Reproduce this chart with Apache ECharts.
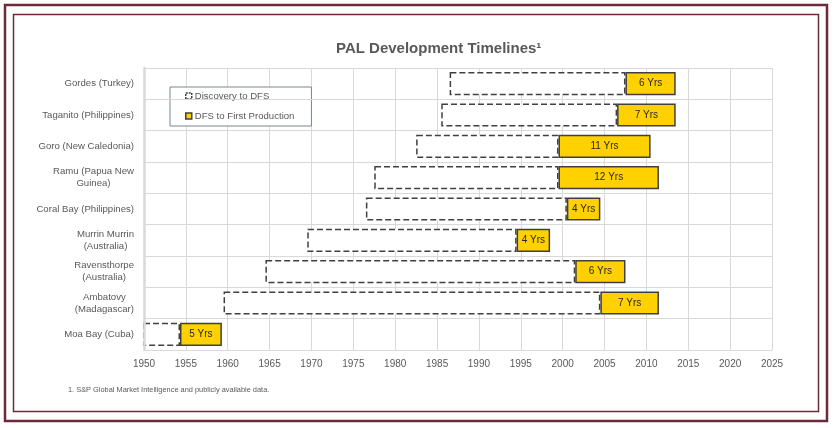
<!DOCTYPE html>
<html>
<head>
<meta charset="utf-8">
<script src="https://cdn.jsdelivr.net/npm/echarts@6/dist/echarts.min.js"></script>
<style>
html,body{margin:0;padding:0;background:#fff;}
#chart{width:835px;height:428px;}
</style>
</head>
<body>
<div id="chart"></div>
<script>
// Data (top to bottom)
var projects = ['Gordes (Turkey)', 'Taganito (Philippines)', 'Goro (New Caledonia)', 'Ramu (Papua New\nGuinea)', 'Coral Bay (Philippines)', 'Murrin Murrin\n(Australia)', 'Ravensthorpe\n(Australia)', 'Ambatovy\n(Madagascar)', 'Moa Bay (Cuba)'];
var discoveryYear = [1986.5, 1985.5, 1982.5, 1977.5, 1976.5, 1969.5, 1964.5, 1959.5, 1949];
var dfsYear = [2007.5, 2006.5, 1999.5, 1999.5, 2000.5, 1994.5, 2001.5, 2004.5, 1954.3];
var productionYear = [2013.5, 2013.5, 2010.5, 2011.5, 2004.5, 1998.5, 2007.5, 2011.5, 1959.3];
var xTicks = [1950, 2025, 5];

var discToDfs = discoveryYear.map(function (d, i) { return +(dfsYear[i] - d).toFixed(2); });
var dfsToProd = dfsYear.map(function (d, i) { return +(productionYear[i] - d).toFixed(2); });

var chart = echarts.init(document.getElementById('chart'), null, {renderer: 'canvas'});
var gray = '#595959';
var font = 'Liberation Sans, Arial, sans-serif';

chart.setOption({
  animation: false,
  backgroundColor: '#fff',
  textStyle: {fontFamily: font},
  title: {
    text: 'PAL Development Timelines\u00b9',
    left: 331, top: 36,
    textStyle: {fontSize: 15, fontWeight: 'bold', color: gray, fontFamily: font}
  },
  legend: {
    orient: 'vertical',
    left: 170, top: 87,
    padding: [4, 17, 5, 15],
    itemGap: 10,
    itemWidth: 6, itemHeight: 6,
    borderColor: '#7a8594', borderWidth: 1,
    backgroundColor: '#fff',
    textStyle: {fontSize: 9.6, color: gray, fontFamily: font, padding: [0, 0, 0, -2]},
    data: [
      {name: 'Discovery to DFS', icon: 'rect', itemStyle: {color: '#fff', borderColor: '#404040', borderWidth: 1.5, borderType: [2, 1]}},
      {name: 'DFS to First Production', icon: 'rect', itemStyle: {color: '#FFD100', borderColor: '#404040', borderWidth: 1.5, borderType: 'solid'}}
    ]
  },
  grid: {left: 144, right: 63, top: 68, bottom: 78, containLabel: false},
  xAxis: {
    type: 'value',
    min: xTicks[0], max: xTicks[1], interval: xTicks[2],
    axisLine: {show: true, lineStyle: {color: '#d9d9d9'}},
    axisTick: {show: false},
    axisLabel: {fontSize: 10, color: gray, margin: 9, fontFamily: font, formatter: function (v) { return String(v); }},
    splitLine: {show: true, lineStyle: {color: '#d9d9d9', width: 1}}
  },
  yAxis: {
    type: 'category',
    inverse: true,
    data: projects,
    z: 5,
    axisLine: {show: true, lineStyle: {color: '#d9d9d9', width: 2.5}},
    axisTick: {show: false},
    splitLine: {show: true, lineStyle: {color: '#d9d9d9', width: 1}},
    axisLabel: {
      margin: 10,
      color: gray,
      fontSize: 9.6,
      fontFamily: font,
      lineHeight: 12,
      formatter: function (v) {
        return v.split('\n').map(function (s) { return '{c|' + s + '}'; }).join('\n');
      },
      rich: {c: {align: 'center', fontSize: 9.6, color: gray, fontFamily: font, lineHeight: 12}}
    }
  },
  series: [
    {
      name: 'base', type: 'bar', stack: 'tl',
      data: discoveryYear,
      itemStyle: {color: 'transparent'},
      barCategoryGap: '26%',
      silent: true,
      clip: true
    },
    {
      name: 'Discovery to DFS', type: 'bar', stack: 'tl',
      data: discToDfs,
      itemStyle: {color: '#fff', borderColor: '#404040', borderWidth: 1.5, borderType: [6, 3]},
      clip: true
    },
    {
      name: 'DFS to First Production', type: 'bar', stack: 'tl',
      data: dfsToProd,
      itemStyle: {color: '#FFD100', borderColor: '#404040', borderWidth: 1.5},
      label: {
        show: true, position: 'inside', color: '#262626', fontSize: 10, fontFamily: font,
        formatter: function (p) { return Math.round(p.value) + ' Yrs'; }
      },
      clip: true
    }
  ],
  graphic: [
    {type: 'rect', shape: {x: 5, y: 5, width: 822, height: 416}, style: {fill: 'none', stroke: '#6B2B3A', lineWidth: 2.5}, silent: true},
    {type: 'rect', shape: {x: 13.5, y: 14.5, width: 805, height: 397}, style: {fill: 'none', stroke: '#6B2B3A', lineWidth: 1.5}, silent: true},
    {type: 'text', left: 68, top: 386, style: {text: '1. S&P Global Market Intelligence and publicly available data.', fontSize: 7.4, fill: gray, fontFamily: font}, silent: true}
  ]
});
</script>
</body>
</html>
